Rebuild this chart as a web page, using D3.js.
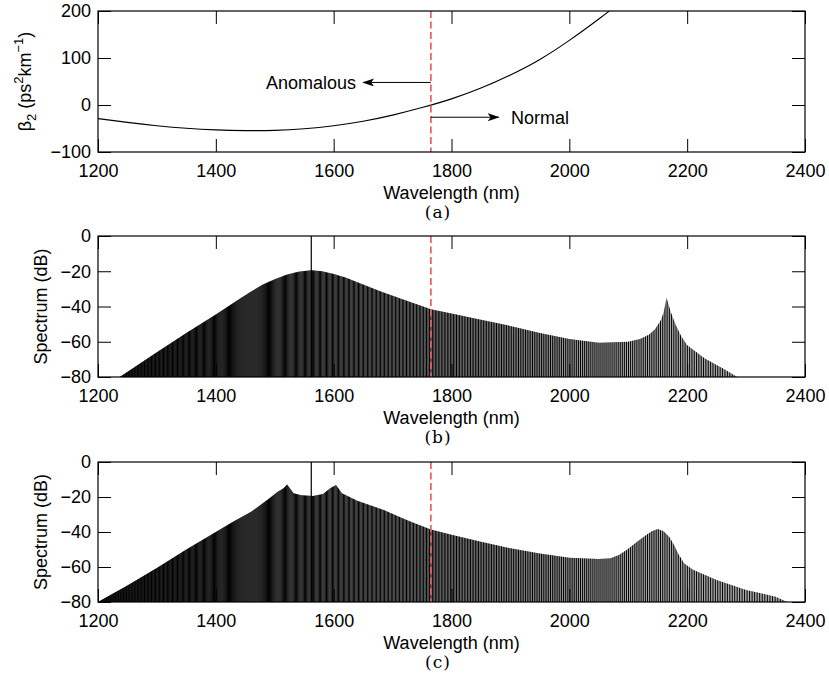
<!DOCTYPE html>
<html><head><meta charset="utf-8">
<script src="https://cdn.jsdelivr.net/npm/d3@7"></script>
<style>body{margin:0;background:#fff}svg{display:block}</style>
</head><body>
<svg id="fig" width="829" height="683"></svg>
<script>
// ---------- data ----------
const xTicks = [1200, 1400, 1600, 1800, 2000, 2200, 2400];
const betaTicks = [-100, 0, 100, 200];
const specTicks = [-80, -60, -40, -20, 0];
const zdw = 1765;          // zero-dispersion wavelength (nm)
const pumpWl = 1562;       // pump line (nm)
const pumpDb = 0;
const combSpacingTHz = 0.24;

// (a) beta2 curve
const betaWl  = [1200,1250,1300,1350,1400,1450,1500,1550,1600,1650,1700,1750,1800,1850,1900,1950,2000,2050,2100];
const betaVal = [ -29, -37, -44,-49.5, -53,-54.5, -54,-50.5, -44,-34.5,-21.5,-5.5, 13,  36,  64,  97,137.5,183, 231];

// (b) spectrum envelope
const specBWl = [1237,1300,1350,1400,1440,1460,1480,1500,1520,1540,1562,1580,1600,1620,1650,1680,1730,1765,1800,1850,1900,1950,2000,2050,2100,2120,2135,2145,2155,2160,2165,2168,2172,2180,2190,2200,2230,2260,2285];
const specBDb = [ -80, -66, -55,-44.5,-35.8,-31.5,-27.5,-24.5,-22,-20.3,-19.5,-20,-21.5,-23.5,-27.5,-31.5,-37.5,-41.5,-44,-47.5,-51, -55,-58.5,-60.5,-60,-58.5,-56,-53,-48,-43.5,-35,-38.5,-43,-50,-57,-62,-69.5,-75, -80];

// (c) spectrum envelope
const specCWl = [1200,1250,1300,1350,1400,1430,1460,1490,1505,1515,1521,1532,1545,1565,1582,1594,1604,1614,1640,1685,1713,1730,1765,1800,1850,1900,1950,2000,2050,2070,2085,2100,2115,2130,2140,2150,2160,2170,2178,2185,2195,2210,2250,2300,2350,2370];
const specCDb = [ -80,-70.5,-60.5,-50,-40, -34,-28.4,-21, -17, -15,-12.8,-17.8,-19,-19.4,-18.3,-15,-13.1,-17.9,-22.1,-27.4,-31.5,-34,-38.5,-41.5,-45.5,-49.3,-52.3,-54.7,-55.4,-55,-53,-49.5,-45.5,-41.8,-39.5,-38.3,-39.5,-43,-47.5,-52.5,-58,-61.5,-67.4,-73.1,-77, -80];

// annotations (data units)
const anomalousArrow = {from: 1765, to: 1650, beta: 48, label: "Anomalous", labelWl: 1638};
const normalArrow    = {from: 1765, to: 1880, beta: -26, label: "Normal", labelWl: 1901};

// ---------- layout ----------
const svg = d3.select("#fig");
const X0 = 98, X1 = 805;
const panels = [
  {id:"a", top:11,  bottom:152},
  {id:"b", top:236, bottom:377},
  {id:"c", top:462, bottom:602}
];
const FONT = "'Liberation Sans', Arial, Helvetica, sans-serif";
const x = d3.scaleLinear().domain([1200, 2400]).range([X0, X1]);

svg.append("rect").attr("width",829).attr("height",683).attr("fill","#fff");

function drawAxes(g, y, yTicks, p) {
  const fmt = d => d < 0 ? "\u2212" + Math.abs(d) : String(d);
  const bottom = g.append("g").attr("transform", `translate(0,${p.bottom})`)
    .call(d3.axisBottom(x).tickValues(xTicks).tickSizeInner(-13).tickSizeOuter(0).tickPadding(12).tickFormat(d3.format("d")));
  const top = g.append("g").attr("transform", `translate(0,${p.top})`)
    .call(d3.axisTop(x).tickValues(xTicks).tickSizeInner(-13).tickSizeOuter(0).tickFormat(""));
  const left = g.append("g").attr("transform", `translate(${X0},0)`)
    .call(d3.axisLeft(y).tickValues(yTicks).tickSizeInner(-13).tickSizeOuter(0).tickPadding(7).tickFormat(fmt));
  const right = g.append("g").attr("transform", `translate(${X1},0)`)
    .call(d3.axisRight(y).tickValues(yTicks).tickSizeInner(-13).tickSizeOuter(0).tickFormat(""));
  [bottom, top, left, right].forEach(a => {
    a.select(".domain").remove();
    a.selectAll(".tick line").attr("stroke", "#000").attr("stroke-width", 1);
    a.selectAll("text").attr("font-family", FONT).attr("font-size", 18).attr("fill", "#000");
  });
  g.append("rect").attr("x", X0).attr("y", p.top).attr("width", X1 - X0).attr("height", p.bottom - p.top)
    .attr("fill", "none").attr("stroke", "#000").attr("stroke-width", 1.2);
  g.append("text").attr("x", (X0 + X1) / 2).attr("y", p.bottom + 47).attr("text-anchor", "middle")
    .attr("font-family", FONT).attr("font-size", 18).text("Wavelength (nm)");
  g.append("text").attr("x", 438).attr("y", p.bottom + 66).attr("text-anchor", "middle")
    .attr("font-family", "'DejaVu Serif', 'Liberation Serif', serif").attr("font-size", 17).attr("letter-spacing", 1)
    .text("(" + p.id + ")");
}

function drawZdw(g, p) {
  g.append("line").attr("x1", x(zdw)).attr("x2", x(zdw)).attr("y1", p.top).attr("y2", p.bottom)
    .attr("stroke", "#f25c5c").attr("stroke-width", 1.7).attr("stroke-dasharray", "7,3.5");
}

// marker
svg.append("defs").append("marker").attr("id", "arr").attr("viewBox", "0 0 12 8")
  .attr("refX", 11).attr("refY", 4).attr("markerWidth", 12).attr("markerHeight", 8)
  .attr("markerUnits", "userSpaceOnUse").attr("orient", "auto")
  .append("path").attr("d", "M0,0 L12,4 L0,8 L3,4 Z").attr("fill", "#000");

// ---------- panel (a) ----------
{
  const p = panels[0];
  const g = svg.append("g");
  const y = d3.scaleLinear().domain([-100, 200]).range([p.bottom, p.top]);
  g.append("clipPath").attr("id", "clipA").append("rect")
    .attr("x", X0).attr("y", p.top).attr("width", X1 - X0).attr("height", p.bottom - p.top);
  const line = d3.line().x((d, i) => x(betaWl[i])).y((d, i) => y(betaVal[i])).curve(d3.curveNatural);
  g.append("path").datum(betaWl).attr("d", line).attr("fill", "none").attr("stroke", "#000")
    .attr("stroke-width", 1.1).attr("clip-path", "url(#clipA)");
  drawZdw(g, p);
  [anomalousArrow, normalArrow].forEach(a => {
    g.append("line").attr("x1", x(a.from)).attr("x2", x(a.to)).attr("y1", y(a.beta)).attr("y2", y(a.beta))
      .attr("stroke", "#000").attr("stroke-width", 1).attr("marker-end", "url(#arr)");
    g.append("text").attr("x", x(a.labelWl)).attr("y", y(a.beta)).attr("dy", "0.36em")
      .attr("text-anchor", a.to < a.from ? "end" : "start")
      .attr("font-family", FONT).attr("font-size", 18).text(a.label);
  });
  drawAxes(g, y, betaTicks, p);
  const lab = g.append("text").attr("transform", `translate(31,${(p.top + p.bottom) / 2}) rotate(-90)`)
    .attr("text-anchor", "middle").attr("font-family", FONT).attr("font-size", 18);
  lab.append("tspan").text("\u03B2");
  lab.append("tspan").attr("font-size", 13).attr("dy", 5).text("2");
  lab.append("tspan").attr("dy", -5).text(" (ps");
  lab.append("tspan").attr("font-size", 13).attr("dy", -8).text("2");
  lab.append("tspan").attr("dy", 8).text("km");
  lab.append("tspan").attr("font-size", 13).attr("dy", -8).text("\u22121");
  lab.append("tspan").attr("dy", 8).text(")");
}

// ---------- spectra (b), (c) ----------
const C = 299792.458; // nm*THz
function drawSpectrum(p, wl, db, clipId) {
  const g = svg.append("g");
  const y = d3.scaleLinear().domain([-80, 0]).range([p.bottom, p.top]);
  const env = d3.area().x((d, i) => x(wl[i])).y0(y(-80)).y1((d, i) => y(db[i]));
  g.append("clipPath").attr("id", clipId).append("path").datum(wl).attr("d", env);
  // light fill under the comb
  g.append("path").datum(wl).attr("d", env).attr("fill", "#a8a8a8");
  // comb texture (uniform frequency grid anchored on the pump)
  const fp = C / pumpWl, fmin = C / 2400, fmax = C / 1200;
  const combF = d3.range(Math.ceil((fmin - fp) / combSpacingTHz), Math.floor((fmax - fp) / combSpacingTHz) + 1)
    .map(n => fp + n * combSpacingTHz);
  g.append("g").attr("clip-path", `url(#${clipId})`)
    .selectAll("line").data(combF).join("line")
    .attr("x1", f => x(C / f)).attr("x2", f => x(C / f))
    .attr("y1", y(-80)).attr("y2", y(0))
    .attr("stroke", "#000").attr("stroke-width", 1);
  g.append("line").attr("x1", x(pumpWl)).attr("x2", x(pumpWl)).attr("y1", y(-80)).attr("y2", y(pumpDb))
    .attr("stroke", "#000").attr("stroke-width", 1.2);
  drawZdw(g, p);
  drawAxes(g, y, specTicks, p);
  g.append("text").attr("transform", `translate(47,${(p.top + p.bottom) / 2}) rotate(-90)`)
    .attr("text-anchor", "middle").attr("font-family", FONT).attr("font-size", 18).text("Spectrum (dB)");
}
drawSpectrum(panels[1], specBWl, specBDb, "clipB");
drawSpectrum(panels[2], specCWl, specCDb, "clipC");
</script>
</body></html>
